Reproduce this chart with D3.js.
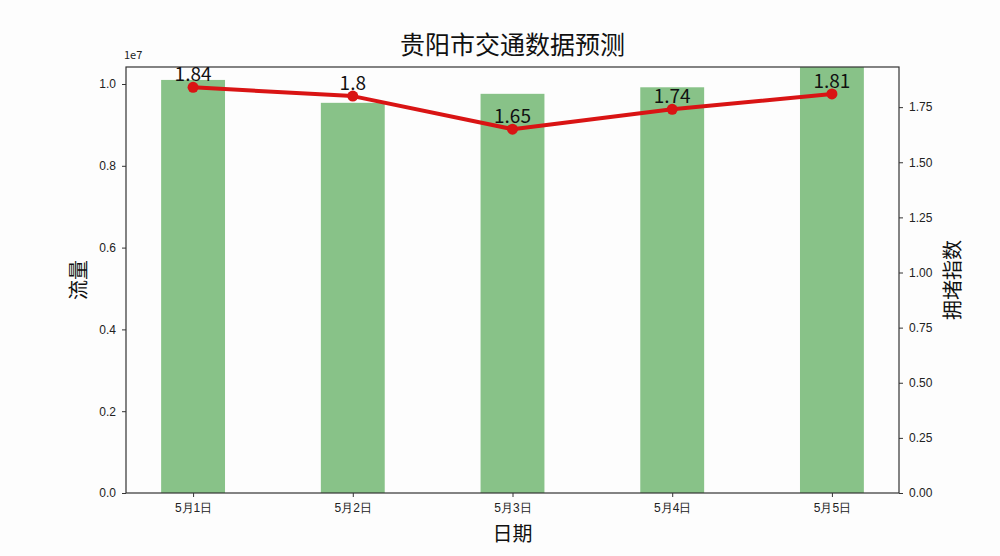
<!DOCTYPE html>
<html>
<head>
<meta charset="utf-8">
<script src="https://cdn.jsdelivr.net/npm/d3@7"></script>
<style>
  body { margin: 0; background: #fdfdfd; }
  svg { font-family: "Noto Sans CJK SC", "DejaVu Sans", sans-serif; }
</style>
</head>
<body>
<div id="chart"></div>
<script>
// data
const dates = ['5月1日', '5月2日', '5月3日', '5月4日', '5月5日'];
const flow = [1.010e7, 0.954e7, 0.976e7, 0.992e7, 1.05e7];
const congestion = [1.84, 1.8, 1.65, 1.74, 1.81];
const leftTicks = [0, 0.2e7, 0.4e7, 0.6e7, 0.8e7, 1.0e7];
const rightTicks = [0, 0.25, 0.5, 0.75, 1.0, 1.25, 1.5, 1.75];

const width = 1000, height = 556;
const margin = { left: 126, right: 101, top: 67, bottom: 63 };
const plotW = width - margin.left - margin.right;
const plotH = height - margin.top - margin.bottom;

const svg = d3.select('#chart').append('svg')
    .attr('width', width)
    .attr('height', height);

const x = d3.scaleLinear().domain([-0.42, 4.42]).range([0, plotW]);
const yLeft = d3.scaleLinear().domain([0, 0.992e7 * 1.05]).range([plotH, 0]);
const yRight = d3.scaleLinear().domain([0, 1.84 * 1.05]).range([plotH, 0]);

svg.append('defs').append('clipPath').attr('id', 'clip')
    .append('rect').attr('width', plotW).attr('height', plotH);

const g = svg.append('g').attr('transform', `translate(${margin.left},${margin.top})`);

// bars
g.append('g').attr('clip-path', 'url(#clip)')
    .selectAll('rect')
    .data(flow)
    .enter().append('rect')
    .attr('x', (d, i) => x(i - 0.2))
    .attr('width', x(0.4) - x(0))
    .attr('y', d => yLeft(d))
    .attr('height', d => plotH - yLeft(d))
    .attr('fill', '#88c288');

// frame
g.append('rect')
    .attr('width', plotW).attr('height', plotH)
    .attr('fill', 'none').attr('stroke', '#333').attr('stroke-width', 1.2);

// axes
const styleAxis = sel => {
    sel.select('.domain').remove();
    sel.selectAll('.tick line').attr('stroke', '#333');
    sel.selectAll('.tick text').attr('fill', '#222').style('font-size', '12px');
};

g.append('g')
    .call(d3.axisLeft(yLeft).tickValues(leftTicks).tickSize(4).tickPadding(6)
        .tickFormat(d => (d / 1e7).toFixed(1)))
    .call(styleAxis);

g.append('g')
    .attr('transform', `translate(${plotW},0)`)
    .call(d3.axisRight(yRight).tickValues(rightTicks).tickSize(4).tickPadding(6)
        .tickFormat(d => d.toFixed(2)))
    .call(styleAxis);

g.append('g')
    .attr('transform', `translate(0,${plotH})`)
    .call(d3.axisBottom(x).tickValues(d3.range(dates.length)).tickSize(4).tickPadding(6)
        .tickFormat(i => dates[i]))
    .call(styleAxis);

// line
const line = d3.line()
    .x((d, i) => x(i))
    .y(d => yRight(d));

g.append('path')
    .datum(congestion)
    .attr('d', line)
    .attr('fill', 'none')
    .attr('stroke', '#d91414')
    .attr('stroke-width', 4)
    .attr('stroke-linejoin', 'round');

g.append('g').selectAll('circle')
    .data(congestion)
    .enter().append('circle')
    .attr('cx', (d, i) => x(i))
    .attr('cy', d => yRight(d))
    .attr('r', 5.5)
    .attr('fill', '#d91414');

g.append('g').selectAll('text')
    .data(congestion)
    .enter().append('text')
    .attr('x', (d, i) => x(i))
    .attr('y', d => yRight(d) - 6)
    .attr('text-anchor', 'middle')
    .style('font-size', '19px')
    .attr('fill', '#111')
    .text(d => d);

// offset text
svg.append('text')
    .attr('x', margin.left - 2)
    .attr('y', margin.top - 8)
    .style('font-size', '11px')
    .attr('fill', '#222')
    .text('1e7');

// title and labels
svg.append('text')
    .attr('x', margin.left + plotW / 2)
    .attr('y', 54)
    .attr('text-anchor', 'middle')
    .style('font-size', '25px')
    .attr('fill', '#111')
    .text('贵阳市交通数据预测');

svg.append('text')
    .attr('x', margin.left + plotW / 2)
    .attr('y', 541)
    .attr('text-anchor', 'middle')
    .style('font-size', '20px')
    .attr('fill', '#111')
    .text('日期');

svg.append('text')
    .attr('transform', `translate(86,${margin.top + plotH / 2}) rotate(-90)`)
    .attr('text-anchor', 'middle')
    .style('font-size', '20px')
    .attr('fill', '#111')
    .text('流量');

svg.append('text')
    .attr('transform', `translate(960,${margin.top + plotH / 2}) rotate(-90)`)
    .attr('text-anchor', 'middle')
    .style('font-size', '20px')
    .attr('fill', '#111')
    .text('拥堵指数');
</script>
</body>
</html>
